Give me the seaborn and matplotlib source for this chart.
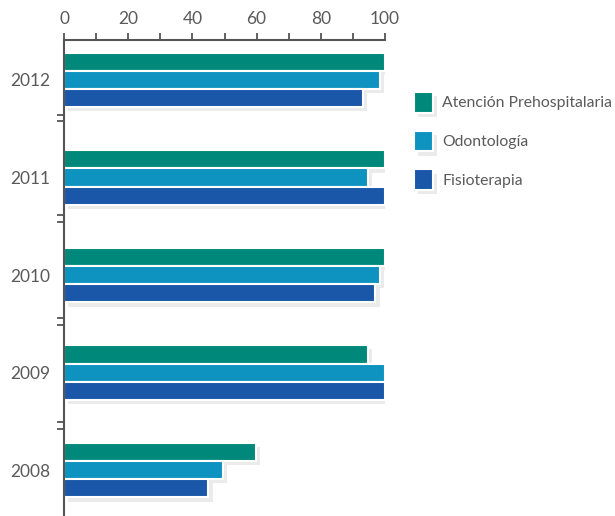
import matplotlib
matplotlib.use("Agg")
import matplotlib.pyplot as plt
import matplotlib.patheffects as pe
import seaborn as sns
import pandas as pd
import numpy as np

years = ["2012", "2011", "2010", "2009", "2008"]
series = ["Atención Prehospitalaria", "Odontología", "Fisioterapia"]
atencion = [100, 100, 100, 94.7, 59.8]
odontologia = [98.5, 94.7, 98.5, 100, 49.5]
fisioterapia = [93, 100, 97, 100, 45]
colors = ["#00897B", "#0E93C0", "#1B57A8"]
xticks = [0, 20, 40, 60, 80, 100]

rows = []
for name, vals in zip(series, [atencion, odontologia, fisioterapia]):
    for y, v in zip(years, vals):
        rows.append({"year": y, "serie": name, "value": v})
df = pd.DataFrame(rows)

sns.set_style("white")
plt.rcParams["font.family"] = ["Lato", "DejaVu Sans"]
txt = "#5a5a5a"

fig = plt.figure(figsize=(6.15, 5.16), dpi=100)
ax = fig.add_axes([64/615, 0, (385-64)/615, 1 - 40/516])

sns.barplot(data=df, y="year", x="value", hue="serie", order=years,
            hue_order=series, palette=colors, orient="h", width=0.56,
            saturation=1, edgecolor="white", linewidth=1.5, ax=ax, legend=True)

shadow = [pe.SimplePatchShadow(offset=(3, -3), shadow_rgbFace="#b0b0b0", alpha=0.25), pe.Normal()]
for p in ax.patches:
    p.set_path_effects(shadow)

ax.set_xlim(0, 100)
ax.set_ylim(4.47, -0.41)
ax.xaxis.tick_top()
ax.set_xticks(xticks)
ax.set_xticks(np.arange(0, 101, 10), minor=True)
ax.tick_params(axis="x", which="both", direction="out", length=5, width=1.3,
               color="#555555", labelsize=12.5, labelcolor=txt, pad=4, top=True, bottom=False)
ax.tick_params(axis="x", which="minor", labeltop=False)
ax.set_xlabel("")
ax.set_ylabel("")

ax.tick_params(axis="y", which="major", length=0, labelsize=12.5, labelcolor=txt, pad=10)
minor_y = []
for b in [0.39, 1.42, 2.48, 3.54]:
    minor_y += [b - 0.035, b + 0.035]
ax.set_yticks(minor_y, minor=True)
ax.tick_params(axis="y", which="minor", direction="out", length=5, width=1.3, color="#555555", left=True)

for s in ["right", "bottom"]:
    ax.spines[s].set_visible(False)
for s in ["top", "left"]:
    ax.spines[s].set_color("#555555")
    ax.spines[s].set_linewidth(1.5)

leg = ax.legend(loc="upper left", bbox_to_anchor=(414/615, 1 - 92/516),
                bbox_transform=fig.transFigure, frameon=False, fontsize=11.3,
                handlelength=1.2, handleheight=1.65, labelspacing=1.15,
                handletextpad=0.6, borderpad=0, borderaxespad=0, labelcolor=txt)
for h in leg.legend_handles:
    h.set_path_effects(shadow)

fig.savefig("out.png", dpi=100, facecolor="white")
